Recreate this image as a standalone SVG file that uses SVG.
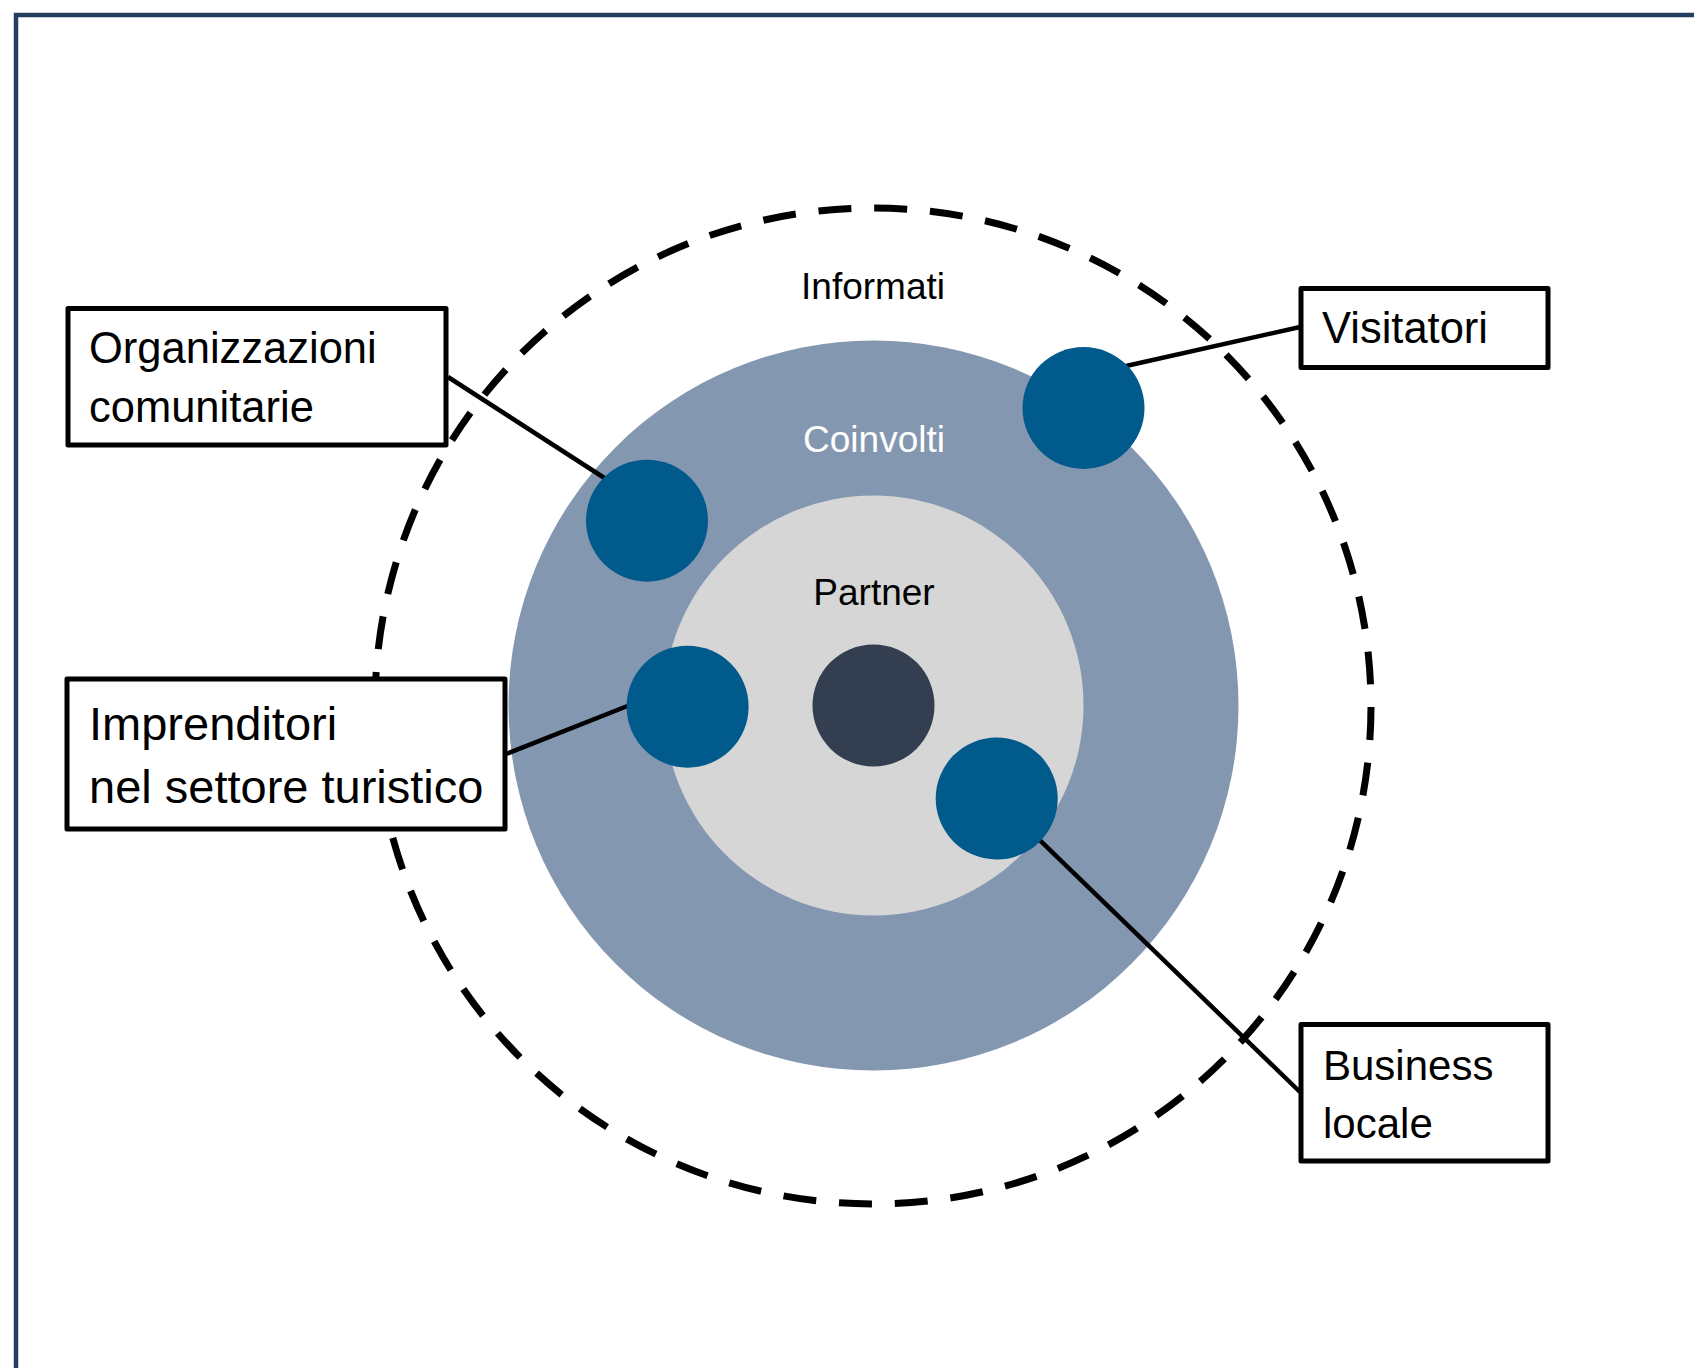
<svg xmlns="http://www.w3.org/2000/svg" width="1694" height="1368" viewBox="0 0 1694 1368">
<style>
.lbl{font-family:"Liberation Sans",Arial,sans-serif;fill:#000}
.box{fill:#fff;stroke:#000;stroke-width:5;stroke-linejoin:round}
.conn{stroke:#000;stroke-width:4.5;fill:none}
.stake{fill:#005A8C}
.ring{font-family:"Liberation Sans",Arial,sans-serif;font-size:37px;text-anchor:middle}
</style>
<rect width="1694" height="1368" fill="#fff"/>
<path d="M16,1370 V15 H1696" fill="none" stroke="#243F60" stroke-width="4.5"/>
<g id="informati">
<circle cx="873" cy="706" r="498" fill="none" stroke="#000" stroke-width="7" stroke-dasharray="33 22.875" stroke-dashoffset="-1"/>
<text class="ring" x="873" y="299" fill="#000">Informati</text>
</g>
<g id="coinvolti">
<circle cx="873.5" cy="705.5" r="365" fill="#8497B0"/>
</g>
<g id="partner">
<circle cx="873.5" cy="705.5" r="210" fill="#D6D6D6"/>
<text class="ring" x="874" y="605" fill="#000">Partner</text>
</g>
<g id="centro">
<circle cx="873.5" cy="705.5" r="61" fill="#333F50"/>
</g>
<g id="coinvolti-label">
<text class="ring" x="874" y="452" fill="#fff">Coinvolti</text>
</g>
<g id="connectors">
<line class="conn" x1="448" y1="377" x2="606" y2="479"/>
<line class="conn" x1="1300" y1="327" x2="1126" y2="366"/>
<line class="conn" x1="506" y1="754" x2="630" y2="705"/>
<line class="conn" x1="996.7" y1="798.5" x2="1300" y2="1092"/>
</g>
<g id="circle-organizzazioni"><circle class="stake" cx="647" cy="520.7" r="61"/></g>
<g id="circle-visitatori"><circle class="stake" cx="1083.5" cy="408" r="61"/></g>
<g id="circle-imprenditori"><circle class="stake" cx="687.6" cy="706.7" r="61"/></g>
<g id="circle-business"><circle class="stake" cx="996.7" cy="798.5" r="61"/></g>
<g id="box-organizzazioni">
<rect class="box" x="68" y="308.5" width="378" height="136.5"/>
<text class="lbl" font-size="43.5" x="89" y="363">Organizzazioni</text>
<text class="lbl" font-size="43.5" x="89" y="421.5">comunitarie</text>
</g>
<g id="box-visitatori">
<rect class="box" x="1301" y="288.5" width="247" height="79"/>
<text class="lbl" font-size="43.5" x="1322" y="343">Visitatori</text>
</g>
<g id="box-imprenditori">
<rect class="box" x="67" y="679" width="438" height="150"/>
<text class="lbl" font-size="47" x="89" y="740">Imprenditori</text>
<text class="lbl" font-size="47" x="89" y="803">nel settore turistico</text>
</g>
<g id="box-business">
<rect class="box" x="1301" y="1024.5" width="247" height="136.5"/>
<text class="lbl" font-size="42" x="1323" y="1080">Business</text>
<text class="lbl" font-size="42" x="1323" y="1137.5">locale</text>
</g>
</svg>
